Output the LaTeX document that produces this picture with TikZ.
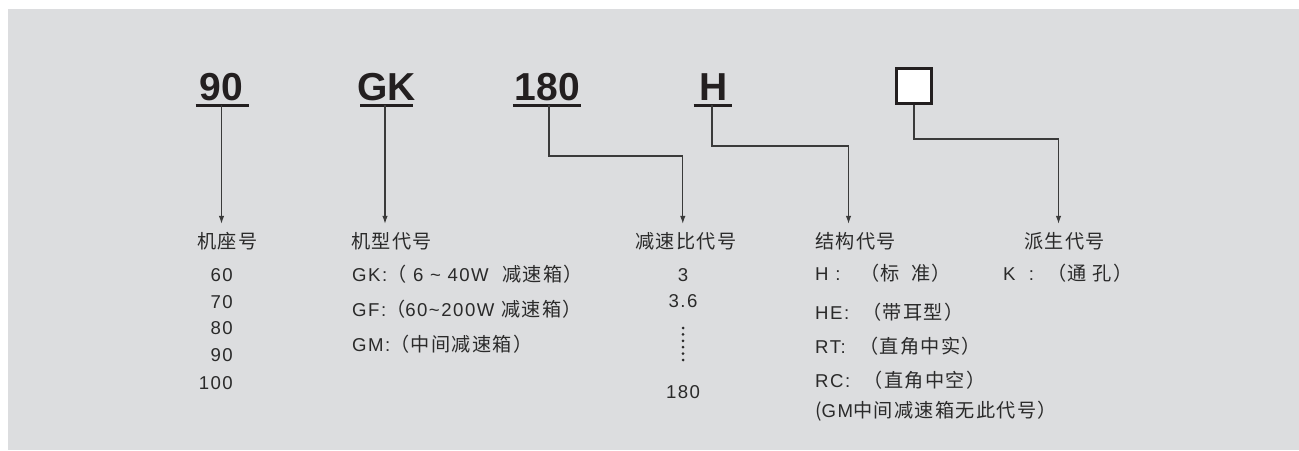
\documentclass[tikz,border=0pt]{standalone}
\usepackage{fontspec}
\setmainfont{Liberation Sans}[LetterSpace=8]
\newfontfamily\cjk{Noto Sans CJK SC}[Scale=1.03,LetterSpace=7]
\newfontfamily\bigfont{Liberation Sans}
\usetikzlibrary{arrows.meta}
\definecolor{bg}{HTML}{DCDDDF}
\definecolor{ink}{HTML}{231F20}
\definecolor{txt}{HTML}{2A2A2A}
\definecolor{ln}{HTML}{3A3A3A}
\newcommand{\zh}[1]{{\cjk #1}}
\begin{document}
\begin{tikzpicture}[x=1pt,y=-1pt,
  big/.style={font=\bigfont\fontsize{39}{39}\selectfont\bfseries, text=ink, inner sep=0pt, anchor=base},
  ul/.style={line width=3pt, draw=ink},
  lbl/.style={font=\fontsize{18.6}{20}\selectfont, text=txt, inner sep=0pt, anchor=base west},
  ttl/.style={lbl, text height=24pt},
  conn/.style={draw=ln, line width=1.1pt},
  arr/.style={conn, -{Latex[length=8pt,width=5.5pt]}},
]
\fill[white] (0,0) rectangle (1299,450);
\fill[bg] (8,9) rectangle (1299,450);
\useasboundingbox (0,0) rectangle (1299,450);

% top codes
\node[big] (n90) at (221.5,100) {90};
\node[big] (nGK) at (386.5,100) {GK};
\node[big] (n180) at (547.5,100) {180};
\node[big] (nH) at (714,100) {H};
\node[draw=ink, line width=3pt, fill=white, minimum size=35pt, inner sep=0pt] (nbox) at (914,86) {};

\draw[ul] ([xshift=-4pt,yshift=-5pt]n90.base west) -- ([xshift=6pt,yshift=-5pt]n90.base east);
\draw[ul] ([xshift=3pt,yshift=-5pt]nGK.base west) -- ([xshift=-3pt,yshift=-5pt]nGK.base east);
\draw[ul] ([xshift=-2pt,yshift=-5pt]n180.base west) -- ([xshift=1pt,yshift=-5pt]n180.base east);
\draw[ul] ([xshift=-6pt,yshift=-5pt]nH.base west) -- ([xshift=4pt,yshift=-5pt]nH.base east);

% titles
\node[ttl] (t1) at (197,248) {\zh{机座号}};
\node[ttl] (t2) at (351,248) {\zh{机型代号}};
\node[ttl] (t3) at (635,248) {\zh{减速比代号}};
\node[ttl] (t4) at (815,248) {\zh{结构代号}};
\node[ttl] (t5) at (1024,248) {\zh{派生代号}};

% connectors
\draw[arr] ([yshift=-5pt]n90.base) -- (n90.base |- t1.north);
\draw[arr] ([xshift=-1.5pt,yshift=-5pt]nGK.base) -- ([xshift=-1.5pt]nGK.base |- t2.north);
\draw[arr] ([xshift=1.5pt,yshift=-5pt]n180.base) -- ++(0,51) -| ([xshift=-3pt]t3.north);
\draw[arr] ([xshift=-2pt,yshift=-5pt]nH.base) -- ++(0,41) -| ([xshift=-7pt]t4.north);
\draw[arr] (nbox.south) -- ++(0,34) -| ([xshift=-6pt]t5.north);

% column 1
\node[lbl, anchor=base east] (a1) at (233,281.5) {60};
\node[lbl, anchor=base east] (a2) at (233,308.5) {70};
\node[lbl, anchor=base east] (a3) at (233,334.5) {80};
\node[lbl, anchor=base east] (a4) at (233,361.5) {90};
\node[lbl, anchor=base east] (a5) at (233,389.5) {100};

% column 2
\node[lbl] (b1) at (352,281.5) {GK:\zh{（}\ 6 \textasciitilde\ 40W\ \ \zh{减速箱）}};
\node[lbl] (b2) at (352,316.5) {GF:\zh{（}60\textasciitilde200W \zh{减速箱）}};
\node[lbl] (b3) at (352,351.5) {GM:\zh{（中间减速箱）}};

% column 3
\node[lbl, anchor=base] (c1) at (683,281.5) {3};
\node[lbl, anchor=base] (c2) at (683,307.5) {3.6};
\foreach \i in {0,...,5} \fill[txt] (683,328+6.4*\i) circle (1.5pt);
\node[lbl, anchor=base] (c3) at (683,398.5) {180};

% column 4
\node[lbl] (d1) at (815,280.5) {H\ :\ \ \ \zh{（标\ \ 准）}};
\node[lbl] (d2) at (815,319.5) {HE:\ \ \zh{（带耳型）}};
\node[lbl] (d3) at (815,353.5) {RT:\ \ \zh{（直角中实）}};
\node[lbl] (d4) at (815,387.5) {RC:\ \ \zh{（直角中空）}};
\node[lbl] (d5) at (815,417.5) {\zh{(}GM\zh{中间减速箱无此代号）}};

% column 5
\node[lbl] (e1) at (1003,280.5) {K\ \ :\ \ \zh{（通\ 孔）}};
\end{tikzpicture}
\end{document}
